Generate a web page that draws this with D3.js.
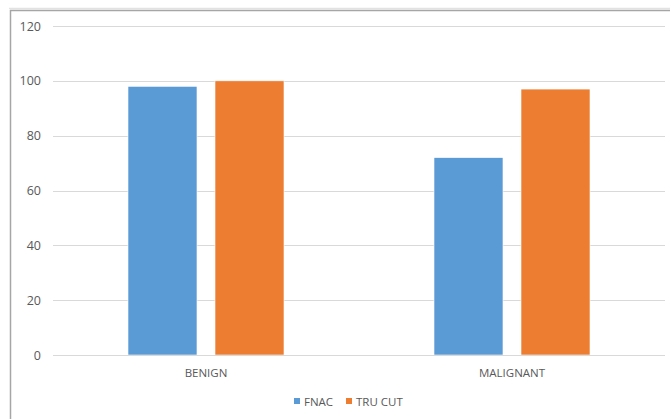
<!DOCTYPE html>
<html lang="en">
<head>
  <meta charset="UTF-8">
  <title>FNAC vs TRU CUT</title>
  <script src="https://d3js.org/d3.v7.min.js"></script>
  <style>
    body { margin: 0; background: white; font-family: "Open Sans", Arial, sans-serif; }
    .tick text { fill: #595959; font-size: 12.5px; }
    .grid line { stroke: #d9d9d9; stroke-width: 1px; }
    .cat { fill: #595959; font-size: 11.5px; text-anchor: middle; }
    .legend text { fill: #595959; font-size: 11.5px; }
  </style>
</head>
<body>
<svg id="svg"></svg>
<script>
const categories = ["BENIGN", "MALIGNANT"];
const seriesNames = ["FNAC", "TRU CUT"];
const fnac = [98, 72];
const truCut = [100, 97];
const yTicks = [0, 20, 40, 60, 80, 100, 120];
const colours = ["#5b9bd5", "#ed7d31"];

const width = 670, height = 419;
const svg = d3.select("#svg").attr("width", width).attr("height", height);

// frame (runs off the right and bottom edges)
svg.append("line").attr("x1", 9).attr("x2", width).attr("y1", 8.5).attr("y2", 8.5)
  .attr("stroke", "#e2e2e2").attr("stroke-width", 1.5);
svg.append("line").attr("x1", 10).attr("x2", width).attr("y1", 10.5).attr("y2", 10.5)
  .attr("stroke", "#a6a6a6").attr("stroke-width", 1.5);
svg.append("line").attr("x1", 10.5).attr("x2", 10.5).attr("y1", 10).attr("y2", height)
  .attr("stroke", "#a6a6a6").attr("stroke-width", 1.5);

const x = d3.scaleBand().domain(categories).range([53, 665]);
const sub = d3.scaleBand().domain(seriesNames).range([0, x.bandwidth()]).paddingInner(0.207).paddingOuter(0.862);
const y = d3.scaleLinear().domain([0, 120]).range([355, 26]);

// gridlines
svg.append("g").attr("class", "grid")
  .selectAll("line").data(yTicks).join("line")
  .attr("x1", 53).attr("x2", 665)
  .attr("y1", d => Math.round(y(d)) + 0.5).attr("y2", d => Math.round(y(d)) + 0.5);

// y axis labels
const yAxis = svg.append("g").attr("transform", "translate(41,0)")
  .call(d3.axisLeft(y).tickValues(yTicks).tickSize(0).tickPadding(0));
yAxis.select(".domain").remove();
yAxis.selectAll("text").attr("font-family", "'Open Sans', Arial, sans-serif");

// bars
const rows = categories.map((c, i) => ({ cat: c, values: [fnac[i], truCut[i]] }));
const groups = svg.append("g").selectAll("g").data(rows).join("g")
  .attr("transform", d => `translate(${x(d.cat)},0)`);
groups.selectAll("rect").data(d => d.values.map((v, j) => ({ name: seriesNames[j], v, j })))
  .join("rect")
  .attr("x", d => sub(d.name))
  .attr("width", sub.bandwidth())
  .attr("y", d => y(d.v))
  .attr("height", d => y(0) - y(d.v))
  .attr("fill", d => colours[d.j])
  .attr("stroke", "white").attr("stroke-width", 0.6);

// baseline
svg.append("line").attr("x1", 53).attr("x2", 665).attr("y1", 355.5).attr("y2", 355.5)
  .attr("stroke", "#d9d9d9").attr("stroke-width", 1);

// category labels
svg.append("g").selectAll("text").data(categories).join("text")
  .attr("class", "cat")
  .attr("x", d => x(d) + x.bandwidth() / 2)
  .attr("y", 377)
  .text(d => d);

// legend
const legend = svg.append("g").attr("class", "legend");
const legendX = [294, 346];
seriesNames.forEach((s, i) => {
  legend.append("rect").attr("x", legendX[i]).attr("y", 398).attr("width", 6).attr("height", 6).attr("fill", colours[i]);
  legend.append("text").attr("x", legendX[i] + 10).attr("y", 405.5).text(s);
});
</script>
</body>
</html>
